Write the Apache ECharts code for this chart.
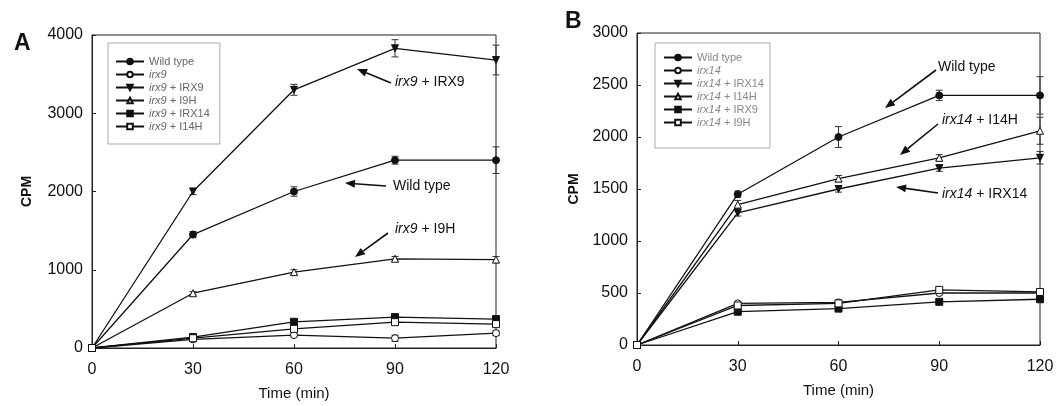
<!DOCTYPE html>
<html>
<head>
<meta charset="utf-8">
<script src="https://cdn.jsdelivr.net/npm/echarts@6/dist/echarts.min.js"></script>
<style>
  html, body { margin: 0; padding: 0; background: #fff; }
  #chartA { position: absolute; left: 0; top: 0; width: 546px; height: 406px; }
  #chartB { position: absolute; left: 546px; top: 0; width: 511px; height: 406px; }
</style>
</head>
<body>
<div id="chartA"></div>
<div id="chartB"></div>
<script>
// time points (min)
const times = [0, 30, 60, 90, 120];

// panel A values (CPM)
const namesA = ['Wild type', 'irx9', 'irx9 + IRX9', 'irx9 + I9H', 'irx9 + IRX14', 'irx9 + I14H'];
const wtA = [0, 1450, 2000, 2400, 2400];
const irx9 = [0, 110, 165, 125, 190];
const irx9IRX9 = [0, 2000, 3300, 3830, 3680];
const irx9I9H = [0, 700, 970, 1140, 1130];
const irx9IRX14 = [0, 140, 335, 395, 370];
const irx9I14H = [0, 125, 245, 330, 305];
const errA = {
  'Wild type': [0, 40, 60, 50, 170],
  'irx9 + IRX9': [0, 40, 70, 110, 190],
  'irx9 + I9H': [0, 20, 30, 30, 40],
  'irx9': [0, 15, 20, 40, 30]
};

// panel B values (CPM)
const namesB = ['Wild type', 'irx14', 'irx14 + IRX14', 'irx14 + I14H', 'irx14 + IRX9', 'irx14 + I9H'];
const wtB = [0, 1450, 2000, 2400, 2400];
const irx14 = [0, 400, 410, 500, 500];
const irx14IRX14 = [0, 1270, 1500, 1700, 1800];
const irx14I14H = [0, 1350, 1600, 1800, 2060];
const irx14IRX9 = [0, 320, 350, 415, 440];
const irx14I9H = [0, 380, 400, 530, 510];
const errB = {
  'Wild type': [0, 30, 100, 50, 180],
  'irx14 + I14H': [0, 40, 30, 30, 130],
  'irx14 + IRX14': [0, 30, 30, 30, 60]
};

// marker styles: [symbol, filled, rotate]
const markers = [
  ['circle', true, 0],
  ['circle', false, 0],
  ['triangle', true, 180],
  ['triangle', false, 0],
  ['rect', true, 0],
  ['rect', false, 0]
];

function lineSeries(name, values, m) {
  return {
    name: name,
    type: 'line',
    data: times.map((t, i) => [t, values[i]]),
    symbol: m[0],
    symbolRotate: m[2],
    symbolSize: 7,
    showAllSymbol: true,
    lineStyle: { color: '#111', width: 1.3 },
    itemStyle: { color: m[1] ? '#111' : '#fff', borderColor: '#111', borderWidth: 1 },
    z: 3
  };
}

function errorSeries(name, values, errs) {
  return {
    type: 'custom',
    name: name + ' err',
    z: 2,
    silent: true,
    data: times.map((t, i) => [t, values[i], errs[i]]),
    renderItem: function (params, api) {
      const x = api.value(0), y = api.value(1), e = api.value(2);
      if (!e) return null;
      const top = api.coord([x, y + e]);
      const bot = api.coord([x, y - e]);
      const w = 3.5;
      const st = { stroke: '#333', lineWidth: 1 };
      return {
        type: 'group',
        children: [
          { type: 'line', shape: { x1: top[0], y1: top[1], x2: bot[0], y2: bot[1] }, style: st },
          { type: 'line', shape: { x1: top[0] - w, y1: top[1], x2: top[0] + w, y2: top[1] }, style: st },
          { type: 'line', shape: { x1: bot[0] - w, y1: bot[1], x2: bot[0] + w, y2: bot[1] }, style: st }
        ]
      };
    }
  };
}

// arrow from tail (x1,y1) to head (x2,y2)
function arrow(x1, y1, x2, y2) {
  const a = Math.atan2(y2 - y1, x2 - x1), L = 10, W = 4;
  const bx = x2 - L * Math.cos(a), by = y2 - L * Math.sin(a);
  return {
    type: 'group',
    children: [
      { type: 'line', shape: { x1: x1, y1: y1, x2: bx, y2: by }, style: { stroke: '#111', lineWidth: 1.6 } },
      {
        type: 'polygon',
        shape: { points: [[x2, y2], [bx + W * Math.sin(a), by - W * Math.cos(a)], [bx - W * Math.sin(a), by + W * Math.cos(a)]] },
        style: { fill: '#111' }
      }
    ]
  };
}

function label(x, y, text) {
  return {
    type: 'text', left: x, top: y - 8,
    style: {
      text: text,
      font: '14px "Liberation Sans", Arial, sans-serif',
      fill: '#111',
      rich: { i: { fontStyle: 'italic', fontSize: 14, fontFamily: 'Liberation Sans' } }
    }
  };
}

function richName(name) {
  const k = name.indexOf(' ');
  if (name === 'Wild type') return name;
  if (k < 0) return '{i|' + name + '}';
  return '{i|' + name.slice(0, k) + '}' + name.slice(k);
}

function baseOption(grid, yMax, yInt, yGap, legendPos, legendNames, textColor) {
  const axisFont = { fontSize: 16, color: '#111', fontFamily: 'Liberation Sans', formatter: v => String(v) };
  return {
    animation: false,
    backgroundColor: '#fff',
    grid: Object.assign({ show: true, borderColor: '#222', borderWidth: 1 }, grid),
    legend: Object.assign({
      orient: 'vertical',
      data: legendNames,
      itemWidth: 28,
      itemHeight: 7,
      itemGap: 2,
      borderColor: '#aaa',
      borderWidth: 1,
      formatter: richName,
      textStyle: {
        fontSize: 11, color: textColor, fontFamily: 'Liberation Sans',
        rich: { i: { fontStyle: 'italic', fontSize: 11, color: textColor } }
      }
    }, legendPos),
    xAxis: {
      type: 'value', min: 0, max: 120, interval: 30,
      name: 'Time (min)', nameLocation: 'middle', nameGap: 38,
      nameTextStyle: { fontSize: 15, color: '#111', fontFamily: 'Liberation Sans' },
      axisLine: { lineStyle: { color: '#222' } },
      axisTick: { inside: true, length: 4, lineStyle: { color: '#222' } },
      axisLabel: Object.assign({ margin: 14 }, axisFont),
      splitLine: { show: false }
    },
    yAxis: {
      type: 'value', min: 0, max: yMax, interval: yInt,
      name: 'CPM', nameLocation: 'middle', nameGap: yGap, nameRotate: 90,
      nameTextStyle: { fontSize: 14, fontWeight: 'bold', color: '#111', fontFamily: 'Liberation Sans' },
      axisLine: { show: true, lineStyle: { color: '#222' } },
      axisTick: { show: true, inside: true, length: 4, lineStyle: { color: '#222' } },
      axisLabel: Object.assign({ margin: 9 }, axisFont),
      splitLine: { show: false }
    }
  };
}

// panel A
const seriesA = [wtA, irx9, irx9IRX9, irx9I9H, irx9IRX14, irx9I14H];
const optA = baseOption({ left: 92, right: 50, top: 35, bottom: 58 }, 4000, 1000, 58,
  { left: 108, top: 43, padding: [13, 10, 12, 7] }, namesA, '#666');
optA.series = [];
namesA.forEach((n, i) => {
  if (errA[n]) optA.series.push(errorSeries(n, seriesA[i], errA[n]));
});
namesA.forEach((n, i) => optA.series.push(lineSeries(n, seriesA[i], markers[i])));
optA.graphic = [
  { type: 'text', left: 14, top: 32, style: { text: 'A', font: 'bold 23px "Liberation Sans", Arial', fill: '#111' } },
  label(395, 83, '{i|irx9} + IRX9'), arrow(391, 83, 357, 69),
  label(393, 187, 'Wild type'), arrow(386, 186, 345, 183),
  label(395, 230, '{i|irx9} + I9H'), arrow(388, 233, 355, 257)
];
echarts.init(document.getElementById('chartA')).setOption(optA);

// panel B
const seriesB = [wtB, irx14, irx14IRX14, irx14I14H, irx14IRX9, irx14I9H];
const optB = baseOption({ left: 91, right: 17, top: 33, bottom: 61 }, 3000, 500, 56,
  { left: 109, top: 43, padding: [9, 6, 20, 8] }, namesB, '#888');
optB.series = [];
namesB.forEach((n, i) => {
  if (errB[n]) optB.series.push(errorSeries(n, seriesB[i], errB[n]));
});
namesB.forEach((n, i) => optB.series.push(lineSeries(n, seriesB[i], markers[i])));
const ox = 546;
optB.graphic = [
  { type: 'text', left: 565 - ox, top: 10, style: { text: 'B', font: 'bold 23px "Liberation Sans", Arial', fill: '#111' } },
  label(938 - ox, 68, 'Wild type'), arrow(936 - ox, 70, 885 - ox, 108),
  label(942 - ox, 121, '{i|irx14} + I14H'), arrow(938 - ox, 124, 900 - ox, 155),
  label(942 - ox, 195, '{i|irx14} + IRX14'), arrow(938 - ox, 193, 896 - ox, 187)
];
echarts.init(document.getElementById('chartB')).setOption(optB);
</script>
</body>
</html>
